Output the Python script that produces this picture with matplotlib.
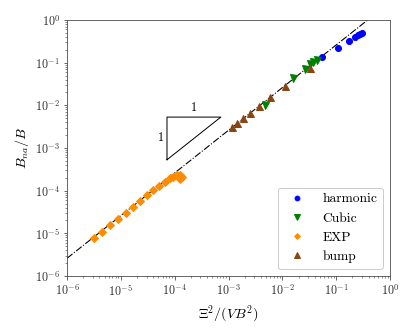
import numpy as np
import matplotlib
matplotlib.use("Agg")
import matplotlib.pyplot as plt

plt.rcParams['mathtext.fontset'] = 'cm'
plt.rcParams['font.family'] = 'serif'
plt.rcParams['font.serif'] = ['cmr10']
plt.rcParams['axes.formatter.use_mathtext'] = True
plt.rcParams['axes.unicode_minus'] = False

# Data
harm_x = [0.0538, 0.107, 0.171, 0.224, 0.258, 0.280, 0.299]
harm_y = [0.138, 0.224, 0.322, 0.406, 0.445, 0.468, 0.488]

cubic_x = [4.76e-3, 0.016, 0.026, 0.0327, 0.0377, 0.0432]
cubic_y = [1.02e-2, 0.0449, 0.0703, 0.094, 0.105, 0.1155]

exp_x = [3.21e-6, 4.56e-6, 6.29e-6, 8.75e-6, 1.23e-5, 1.66e-5, 2.27e-5, 3.03e-5,
         4.01e-5, 5.19e-5, 6.63e-5, 8.18e-5, 9.51e-5, 1.09e-4, 1.26e-4, 1.35e-4, 1.26e-4]
exp_y = [7.91e-6, 1.10e-5, 1.57e-5, 2.17e-5, 3.05e-5, 4.21e-5, 5.82e-5, 7.92e-5,
         1.04e-4, 1.31e-4, 1.62e-4, 1.95e-4, 2.09e-4, 2.33e-4, 2.33e-4, 2.13e-4, 1.85e-4]

bump_x = [1.14e-3, 1.42e-3, 1.88e-3, 2.56e-3, 3.69e-3, 5.90e-3, 1.12e-2, 3.27e-2]
bump_y = [3.16e-3, 3.92e-3, 5.13e-3, 6.73e-3, 9.64e-3, 1.54e-2, 2.84e-2, 7.38e-2]

fit_coef = 2.6
fit_x = [1e-6, 1e0]

tri_x = [7.2e-5, 7.2e-4]
tri_y = [5.3e-4, 5.3e-3]

fig = plt.figure(figsize=(415/72, 332/72), dpi=72)
ax = fig.add_axes([67/415, 1-276/332, 323/415, 256/332])

fx = np.array(fit_x)
ax.plot(fx, fit_coef*fx, color='black', linestyle='-.', lw=1.1, zorder=1)

ax.plot(harm_x, harm_y, 'o', color='blue', ms=6, label='harmonic', zorder=3)
ax.plot(cubic_x, cubic_y, 'v', color='green', ms=7, label='Cubic', zorder=3)
ax.plot(exp_x, exp_y, 'D', color='darkorange', ms=5, label='EXP', zorder=3)
ax.plot(bump_x, bump_y, '^', color='saddlebrown', ms=7, label='bump', zorder=3)

# slope triangle
ax.plot([tri_x[0], tri_x[0], tri_x[1], tri_x[0]],
        [tri_y[0], tri_y[1], tri_y[1], tri_y[0]], color='black', lw=1.0)
ax.text(np.sqrt(tri_x[0]*tri_x[1]), tri_y[1]*1.2, '1', ha='center', va='bottom', fontsize=12)
ax.text(tri_x[0]/1.15, np.sqrt(tri_y[0]*tri_y[1]), '1', ha='right', va='center', fontsize=12)

ax.set_xscale('log')
ax.set_yscale('log')
ax.set_xlim(1e-6, 1e0)
ax.set_ylim(1e-6, 1e0)
ax.set_xticks([1e-6, 1e-5, 1e-4, 1e-3, 1e-2, 1e-1, 1e0])
ax.set_yticks([1e-6, 1e-5, 1e-4, 1e-3, 1e-2, 1e-1, 1e0])

for s in ax.spines.values():
    s.set_color('#444444')
ax.tick_params(which='both', colors='#444444', labelcolor='#333333', labelsize=12)

ax.set_xlabel(r'$\Xi^2/(VB^2)$', fontsize=14)
ax.set_ylabel(r'$B_{na}/B$', fontsize=14)

ax.legend(loc='lower right', fontsize=13.5, handletextpad=0.9, labelspacing=0.5,
          borderaxespad=0.55, markerscale=0.8, framealpha=1.0)

fig.savefig('out.png', dpi=72)
